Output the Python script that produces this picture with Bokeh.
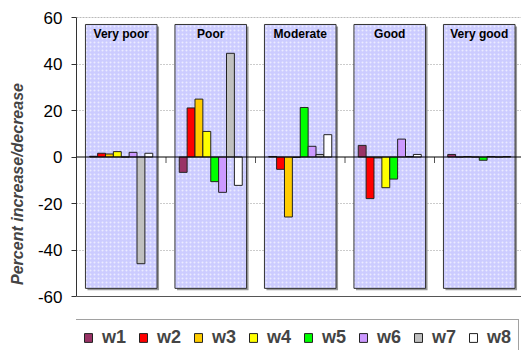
from bokeh.plotting import figure
from bokeh.models import Range1d, Span, Legend, LegendItem, FixedTicker, ColumnDataSource
from bokeh.core.properties import value
from bokeh.embed import file_html
from bokeh.resources import INLINE

categories = ["Very poor", "Poor", "Moderate", "Good", "Very good"]
series = ["w1", "w2", "w3", "w4", "w5", "w6", "w7", "w8"]
w1 = [0.3, -6.6, 0.2, 5.0, 1.1]
w2 = [1.6, 21.1, -5.3, -17.9, 0.0]
w3 = [1.3, 24.9, -25.8, -0.4, 0.2]
w4 = [2.3, 11.0, -0.2, -13.2, 0.0]
w5 = [0.0, -10.6, 21.3, -9.5, -1.4]
w6 = [2.0, -15.2, 4.6, 7.7, 0.2]
w7 = [-45.9, 44.6, 1.1, 0.2, 0.0]
w8 = [1.6, -12.2, 9.6, 1.1, 0.2]
values = [w1, w2, w3, w4, w5, w6, w7, w8]
colors = ["#993366", "#ff0000", "#ffcc00", "#ffff00", "#00ff00", "#cc99ff", "#c0c0c0", "#ffffff"]
y_ticks = [-60, -40, -20, 0, 20, 40, 60]
panel_top, panel_bottom = 57, -56.5

W, H = 521, 350
left, top = 76, 17
axis_h = 279          # pixel height of the -60..60 span
below = H - top - axis_h
cat_px = 89.5
fw = W - left
x_end = fw / cat_px
xpx = cat_px
ypx = axis_h / 120.0
y_start = -60 - below / ypx

p = figure(width=W, height=H, output_backend="svg", toolbar_location=None,
           x_range=Range1d(0, x_end), y_range=Range1d(y_start, 60),
           x_axis_type=None, min_border_left=left, min_border_top=top,
           min_border_bottom=0, min_border_right=0,
           background_fill_color="white", border_fill_color="white",
           outline_line_color=None)

p.ygrid.ticker = FixedTicker(ticks=[-40, -20, 20, 40])
p.ygrid.grid_line_color = "#999999"
p.ygrid.grid_line_dash = "1 2"
p.xgrid.visible = False

yax = p.yaxis[0]
yax.ticker = FixedTicker(ticks=y_ticks)
yax.bounds = (-60, 60)
yax.major_label_overrides = {t: str(t) for t in y_ticks}
yax.axis_line_color = "#333333"
yax.major_tick_line_color = "#333333"
yax.major_tick_out = 5
yax.major_tick_in = 0
yax.minor_tick_line_color = None
yax.major_label_text_font = "Liberation Sans"
yax.major_label_text_font_size = "17px"
yax.major_label_text_color = "black"
yax.major_label_standoff = 9
yax.axis_label = "Percent increase/decrease"
yax.axis_label_text_font = "Liberation Sans"
yax.axis_label_text_font_style = "bold italic"
yax.axis_label_text_font_size = "16px"
yax.axis_label_standoff = 9

p.add_layout(Span(location=60, dimension="width", line_color="#777777", line_dash="2 1", line_width=1))
p.add_layout(Span(location=-60, dimension="width", line_color="#555555", line_width=1))

n = len(categories)
centers = [i + 0.5 for i in range(n)]
pw = 0.8
sx = 2 / xpx
sy = 2 / ypx
shadow = ColumnDataSource(dict(
    left=[c - pw / 2 + sx for c in centers], right=[c + pw / 2 + sx for c in centers],
    top=[panel_top - sy] * n, bottom=[panel_bottom - sy] * n))
p.quad(left="left", right="right", top="top", bottom="bottom", source=shadow,
       fill_color="#999999", line_color=None)
panels = ColumnDataSource(dict(x=centers, cat=categories,
                               left=[c - pw / 2 for c in centers], right=[c + pw / 2 for c in centers],
                               top=[panel_top] * n, bottom=[panel_bottom] * n))
p.quad(left="left", right="right", top="top", bottom="bottom", source=panels,
       fill_color="#ccccff", line_color="#333333", line_width=1,
       hatch_pattern="dot", hatch_color="white", hatch_alpha=0.6, hatch_scale=4, hatch_weight=1)
p.text(x="x", y="top", text="cat", source=panels, text_align="center", text_baseline="top",
       y_offset=3, text_font=value("Liberation Sans"), text_font_style="bold",
       text_font_size="12px", text_color="black")

p.add_layout(Span(location=0, dimension="width", line_color="black", line_width=1))
bounds = list(range(1, n))
p.segment(x0=bounds, x1=bounds, y0=[0] * len(bounds), y1=[-6 / ypx] * len(bounds),
          line_color="#555555", line_width=1)

bw = 0.088
items = []
for j, (name, vals, col) in enumerate(zip(series, values, colors)):
    xs = [c + (j - (len(series) - 1) / 2) * bw for c in centers]
    r = p.vbar(x=xs, top=vals, bottom=0, width=bw, fill_color=col, line_color="#222222", line_width=1)
    items.append(LegendItem(label=name, renderers=[r]))

legend = Legend(items=items, orientation="horizontal", location=(-1, -6),
                border_line_color="#444444", border_line_width=1, background_fill_color="white",
                label_text_font="Liberation Sans", label_text_font_style="bold",
                label_text_font_size="18px", glyph_width=10, glyph_height=11,
                label_standoff=9, spacing=12, padding=7, margin=0)
p.add_layout(legend, "center")

open("out.html", "w").write(file_html(p, INLINE))
